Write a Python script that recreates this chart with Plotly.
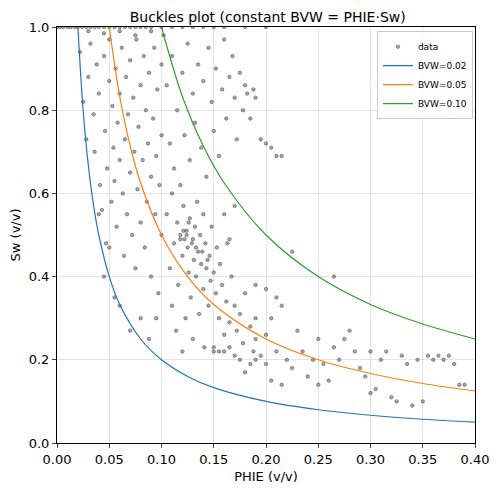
import plotly.graph_objects as go

# scatter data in groups
top_x = [0.0, 0.003, 0.006, 0.01, 0.013, 0.017, 0.02, 0.024, 0.028, 0.032, 0.036, 0.04, 0.045, 0.05,
         0.055, 0.06, 0.065, 0.07, 0.075, 0.08, 0.085, 0.09, 0.1, 0.11, 0.12, 0.13, 0.14, 0.15, 0.16, 0.18, 0.2,
         0.03, 0.045, 0.06, 0.075, 0.09]
top_y = [1.0] * 31 + [0.99, 0.985, 0.99, 0.98, 0.99]

left_x = [0.022, 0.025, 0.028, 0.03, 0.032, 0.035, 0.036, 0.038, 0.04, 0.041, 0.043, 0.045, 0.046, 0.047,
          0.048, 0.05, 0.05, 0.052, 0.053, 0.054, 0.055, 0.056, 0.057, 0.058, 0.06, 0.06, 0.062, 0.063, 0.064,
          0.065, 0.066, 0.067, 0.068, 0.07, 0.07, 0.072, 0.073, 0.074, 0.075, 0.076, 0.077, 0.078, 0.08, 0.08,
          0.082, 0.083, 0.084, 0.085, 0.086, 0.087, 0.088, 0.09, 0.09, 0.092, 0.093, 0.094, 0.095, 0.096,
          0.097, 0.098, 0.1, 0.1, 0.1, 0.045, 0.055, 0.06, 0.07, 0.08, 0.088, 0.095, 0.05, 0.04]
left_y = [0.94, 0.82, 0.73, 0.88, 0.96, 0.79, 0.70, 0.91, 0.84, 0.62, 0.56, 0.93, 0.75, 0.48,
          0.66, 0.97, 0.87, 0.58, 0.81, 0.71, 0.63, 0.90, 0.52, 0.77, 0.68, 0.84, 0.95, 0.60, 0.45,
          0.73, 0.88, 0.55, 0.79, 0.65, 0.92, 0.50, 0.83, 0.70, 0.42, 0.97, 0.61, 0.76, 0.86, 0.53,
          0.68, 0.93, 0.47, 0.80, 0.58, 0.72, 0.89, 0.64, 0.40, 0.78, 0.95, 0.55, 0.69, 0.85,
          0.36, 0.62, 0.74, 0.91, 0.50, 0.40, 0.35, 0.33, 0.27, 0.30, 0.25, 0.30, 0.47, 0.55]

mid_x = [0.105, 0.108, 0.11, 0.11, 0.112, 0.114, 0.115, 0.116, 0.118, 0.12, 0.12, 0.121, 0.122, 0.123,
         0.124, 0.125, 0.126, 0.127, 0.128, 0.13, 0.13, 0.131, 0.132, 0.133, 0.134, 0.135, 0.136, 0.137,
         0.138, 0.14, 0.14, 0.141, 0.142, 0.143, 0.145, 0.146, 0.147, 0.148, 0.15, 0.15, 0.152, 0.153,
         0.155, 0.156, 0.158, 0.16, 0.162, 0.163, 0.165, 0.167, 0.17, 0.172, 0.175, 0.178, 0.18, 0.185,
         0.188, 0.19, 0.118, 0.124, 0.129, 0.133, 0.139, 0.144, 0.126, 0.121]
mid_y = [0.55, 0.42, 0.33, 0.60, 0.48, 0.27, 0.53, 0.38, 0.50, 0.45, 0.22, 0.57, 0.49, 0.30,
         0.51, 0.47, 0.41, 0.54, 0.35, 0.49, 0.25, 0.44, 0.52, 0.40, 0.58, 0.46, 0.31, 0.50,
         0.43, 0.37, 0.55, 0.23, 0.48, 0.42, 0.33, 0.45, 0.39, 0.52, 0.41, 0.22, 0.36, 0.47,
         0.30, 0.43, 0.38, 0.26, 0.34, 0.48, 0.29, 0.40, 0.33, 0.27, 0.31, 0.24, 0.36, 0.28,
         0.22, 0.30, 0.49, 0.50, 0.48, 0.47, 0.46, 0.44, 0.53, 0.51]

upper_x = [0.102, 0.105, 0.108, 0.11, 0.112, 0.115, 0.118, 0.12, 0.122, 0.125, 0.127, 0.13, 0.132,
           0.135, 0.138, 0.14, 0.143, 0.145, 0.148, 0.15, 0.152, 0.155, 0.158, 0.16, 0.162, 0.165,
           0.168, 0.17, 0.172, 0.175, 0.178, 0.18, 0.182, 0.185, 0.188, 0.19, 0.195, 0.2, 0.205, 0.21,
           0.215, 0.17, 0.165, 0.16]
upper_y = [0.98, 0.86, 0.72, 0.93, 0.66, 0.80, 0.62, 0.89, 0.74, 0.96, 0.68, 0.84, 0.77,
           0.91, 0.71, 0.87, 0.64, 0.95, 0.82, 0.75, 0.90, 0.69, 0.85, 0.97, 0.78, 0.88,
           0.93, 0.83, 0.73, 0.89, 0.80, 0.86, 0.84, 0.78, 0.85, 0.83, 0.73, 0.72, 0.71, 0.69,
           0.69, 0.57, 0.49, 0.55]

low_x = [0.15, 0.155, 0.16, 0.165, 0.17, 0.175, 0.18, 0.185, 0.19, 0.195, 0.2, 0.205, 0.21, 0.215,
         0.22, 0.225, 0.23, 0.235, 0.24, 0.245, 0.25, 0.25, 0.255, 0.26, 0.265, 0.27, 0.275, 0.28,
         0.285, 0.29, 0.295, 0.3, 0.3, 0.305, 0.31, 0.315, 0.32, 0.325, 0.33, 0.335, 0.34, 0.345,
         0.35, 0.355, 0.36, 0.365, 0.37, 0.375, 0.38, 0.385, 0.39, 0.19, 0.2, 0.21, 0.215, 0.205,
         0.225, 0.265, 0.2, 0.19]
low_y = [0.23, 0.22, 0.22, 0.23, 0.21, 0.20, 0.17, 0.19, 0.20, 0.21, 0.19, 0.15, 0.22, 0.14,
         0.20, 0.18, 0.27, 0.22, 0.16, 0.20, 0.25, 0.14, 0.19, 0.15, 0.23, 0.20, 0.25, 0.27,
         0.22, 0.18, 0.16, 0.12, 0.22, 0.13, 0.20, 0.22, 0.11, 0.10, 0.21, 0.19, 0.09, 0.20,
         0.10, 0.21, 0.20, 0.21, 0.20, 0.21, 0.19, 0.14, 0.14, 0.38, 0.37, 0.35, 0.33, 0.30,
         0.46, 0.40, 0.26, 0.25]

data_x = top_x + left_x + mid_x + upper_x + low_x
data_y = top_y + left_y + mid_y + upper_y + low_y

# BVW curves, points
bvw02_x = [0.02, 0.025, 0.03, 0.035, 0.04, 0.05, 0.06, 0.08, 0.1, 0.125, 0.15, 0.2, 0.25, 0.3, 0.35, 0.4]
bvw02_y = [1.0, 0.8, 0.667, 0.571, 0.5, 0.4, 0.333, 0.25, 0.2, 0.16, 0.133, 0.1, 0.08, 0.0667, 0.0571, 0.05]
bvw05_x = [0.05, 0.06, 0.07, 0.08, 0.1, 0.125, 0.15, 0.2, 0.25, 0.3, 0.35, 0.4]
bvw05_y = [1.0, 0.833, 0.714, 0.625, 0.5, 0.4, 0.333, 0.25, 0.2, 0.167, 0.143, 0.125]
bvw10_x = [0.1, 0.12, 0.14, 0.16, 0.2, 0.25, 0.3, 0.35, 0.4]
bvw10_y = [1.0, 0.833, 0.714, 0.625, 0.5, 0.4, 0.333, 0.286, 0.25]

fig = go.Figure()
fig.add_trace(go.Scatter(x=data_x, y=data_y, mode='markers', name='data',
                         marker=dict(size=3.5, color='rgba(110,110,110,0.6)',
                                     line=dict(width=0.6, color='rgba(40,40,40,0.7)'))))
fig.add_trace(go.Scatter(x=bvw02_x, y=bvw02_y, mode='lines', name='BVW=0.02',
                         line=dict(color='#1f77b4', width=1.2, shape='spline')))
fig.add_trace(go.Scatter(x=bvw05_x, y=bvw05_y, mode='lines', name='BVW=0.05',
                         line=dict(color='#ff7f0e', width=1.2, shape='spline')))
fig.add_trace(go.Scatter(x=bvw10_x, y=bvw10_y, mode='lines', name='BVW=0.10',
                         line=dict(color='#2ca02c', width=1.2, shape='spline')))

# page body adds an 8px offset, so the figure is a bit smaller than the window
axis = dict(showline=True, linecolor='black', mirror=True, ticks='outside', ticklen=4,
            gridcolor='rgba(0,0,0,0.1)', zeroline=False, tickfont=dict(size=13), automargin=False)
fig.update_layout(
    width=490, height=484,
    margin=dict(l=49, r=23, t=19, b=49),
    paper_bgcolor='white', plot_bgcolor='white',
    font=dict(family='DejaVu Sans', color='black', size=13),
    title=dict(text='Buckles plot (constant BVW = PHIE·Sw)', x=0.53, xanchor='center',
               y=0.992, yanchor='top', font=dict(size=14)),
    xaxis=dict(axis, range=[0, 0.4], dtick=0.05, tickformat='.2f',
               title=dict(text='PHIE (v/v)', standoff=6, font=dict(size=13))),
    yaxis=dict(axis, range=[0, 1], dtick=0.2, tickformat='.1f',
               title=dict(text='Sw (v/v)', standoff=8, font=dict(size=13))),
    legend=dict(x=0.995, y=0.99, xanchor='right', yanchor='top', bgcolor='rgba(255,255,255,0.8)',
                bordercolor='#cccccc', borderwidth=1, font=dict(size=9), tracegroupgap=0,
                itemwidth=30),
)
fig.write_html("out.html")
